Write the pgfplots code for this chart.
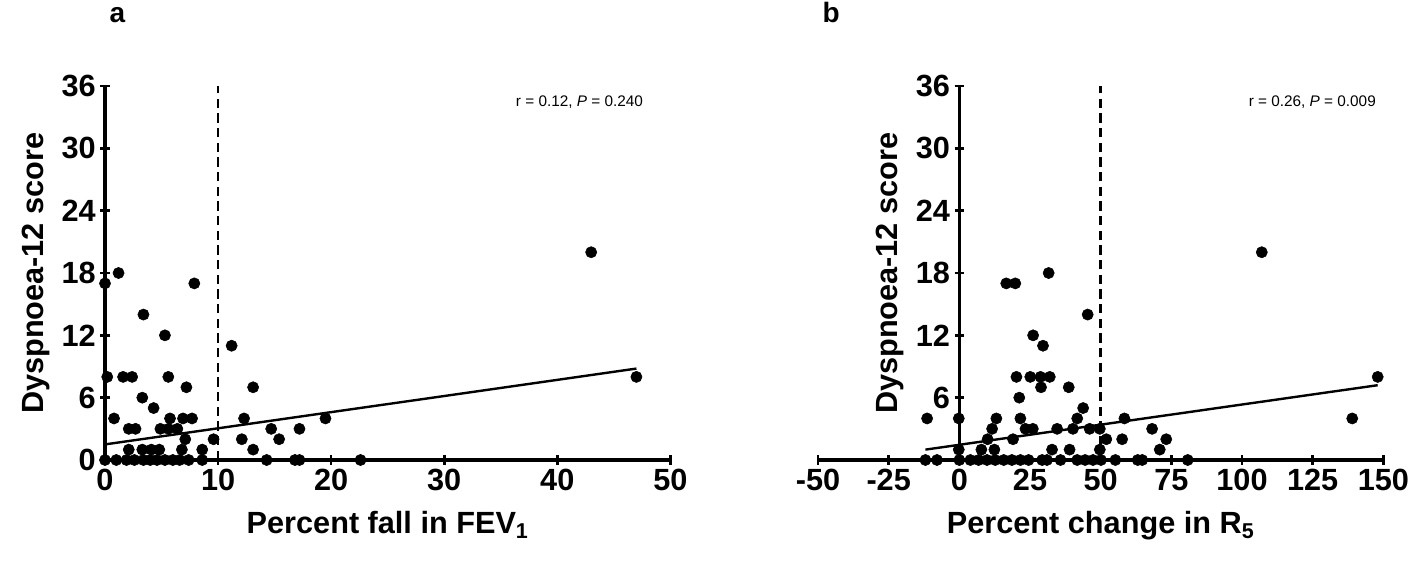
\documentclass[border=0pt]{standalone}
\usepackage{pgfplots}
\pgfplotsset{compat=1.18}
\usepackage{fontspec}
\setmainfont{Liberation Sans}
\begin{document}
\begin{tikzpicture}
\pgfplotsset{
 myax/.style={scale only axis, width=424pt, height=280.5pt,
  ymin=0, ymax=36, ytick={0,6,...,36}, clip=false,
  major tick style={line width=2pt, black},
  major tick length=7pt, tick align=outside,
  tick label style={font=\fontsize{23}{25}\selectfont\bfseries},
  xlabel style={font=\fontsize{23}{26}\selectfont\bfseries, yshift=-8pt},
  /pgf/number format/assume math mode=true,
  ylabel={Dyspnoea-12 score},
 },
 fixlines/.style={axis line style={-, line width=2.3pt, black}},
 dots/.style={only marks, mark=*, mark size=4.2pt, black},
}
\begin{axis}[myax, at={(0,0)}, axis x line=bottom, axis y line=left, fixlines,
  xmin=0, xmax=50, xtick={0,10,...,50},
  xlabel={Percent fall in FEV$_\mathbf{1}$},
  every axis y label/.style={at={(-52pt,140pt)}, rotate=90, anchor=center, font=\fontsize{23}{26}\selectfont\bfseries}]
\addplot[dots] coordinates {
(0,17)(1.2,18)(7.9,17)(3.4,14)(5.3,12)(11.2,11)
(0.2,8)(1.6,8)(2.4,8)(5.6,8)(7.2,7)(13.1,7)(3.3,6)(4.3,5)
(0.8,4)(5.75,4)(6.9,4)(7.7,4)(12.3,4)(19.5,4)
(2.1,3)(2.7,3)(4.9,3)(5.6,3)(6.4,3)(14.7,3)(17.2,3)
(7.1,2)(9.6,2)(12.1,2)(15.4,2)
(2.1,1)(3.3,1)(4.1,1)(4.8,1)(6.8,1)(8.6,1)(13.1,1)
(0,0)(1.0,0)(1.9,0)(2.6,0)(3.4,0)(4.0,0)(4.6,0)(5.3,0)(6.0,0)(6.6,0)(7.4,0)(8.6,0)(14.3,0)(16.8,0)(17.2,0)(22.6,0)
(43,20)(47,8)};
\addplot[black, line width=1.8pt] coordinates {(0,1.5)(47,8.8)};
\addplot[black, line width=2pt, dash pattern=on 7pt off 4pt] coordinates {(10,0)(10,36)};
\node[anchor=north east, font=\fontsize{11.5}{13}\selectfont] at (axis cs:48,35.5) {r = 0.12, \textit{P} = 0.240};
\node[anchor=base west, font=\fontsize{21}{22}\selectfont\bfseries] at (rel axis cs:0,1.17) {a};
\end{axis}
\begin{axis}[myax, at={(534.75pt,0)}, axis x line=bottom, axis y line=middle, fixlines,
  xmin=-50, xmax=150, xtick={-50,-25,...,150},
  xlabel={Percent change in R$_\mathbf{5}$},
  every axis y label/.style={at={(54pt,140pt)}, rotate=90, anchor=center, font=\fontsize{23}{26}\selectfont\bfseries}]
\addplot[dots] coordinates {
(31.6,18)(16.6,17)(19.8,17)(45.4,14)(26.1,12)(29.6,11)
(20.2,8)(25.1,8)(28.7,8)(32,8)(28.9,7)(38.7,7)(21.2,6)(43.8,5)
(-11.4,4)(-0.2,4)(13.1,4)(21.6,4)(41.7,4)(58.4,4)
(11.6,3)(23.4,3)(26,3)(34.6,3)(40.2,3)(46.1,3)(49.7,3)(68.2,3)
(10,2)(19,2)(52,2)(57.6,2)(73.2,2)
(-0.2,1)(7.8,1)(12.4,1)(32.8,1)(39,1)(49.7,1)(70.9,1)
(-12,0)(-7.9,0)(0,0)(3.9,0)(6.8,0)(9.8,0)(12.7,0)(15.7,0)(18.6,0)(21.6,0)(24.5,0)(29.3,0)(31,0)(35.8,0)(41.7,0)(44.5,0)(47.3,0)(50.1,0)(55.2,0)(63.1,0)(64.7,0)(80.8,0)
(107,20)(139,4)(148,8)};
\addplot[black, line width=1.8pt] coordinates {(-12,1)(148,7.2)};
\addplot[black, line width=2pt, dash pattern=on 7pt off 4pt] coordinates {(50,0)(50,36)};
\node[anchor=north east, font=\fontsize{11.5}{13}\selectfont] at (axis cs:149,35.5) {r = 0.26, \textit{P} = 0.009};
\node[anchor=base west, font=\fontsize{21}{22}\selectfont\bfseries] at (rel axis cs:0,1.17) {b};
\end{axis}
\pgfresetboundingbox
\path (-78.75pt,-81.75pt) rectangle (979.5pt,345pt);
\end{tikzpicture}
\end{document}
